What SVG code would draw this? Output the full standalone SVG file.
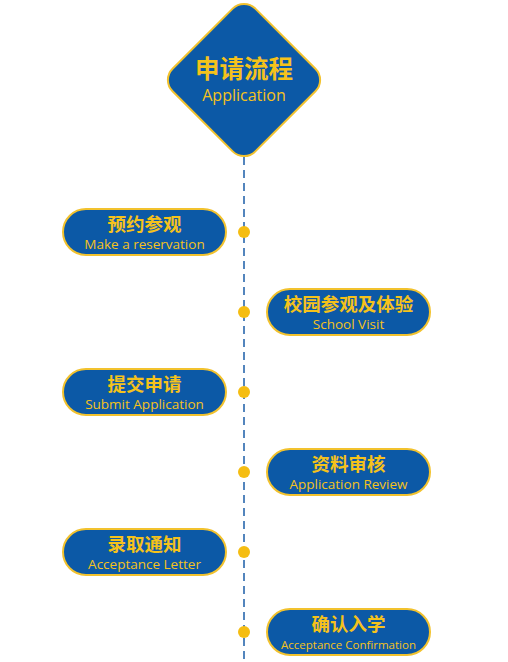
<svg xmlns="http://www.w3.org/2000/svg" width="508" height="662" viewBox="0 0 508 662">
<style>
.pill{fill:#0c59a6;stroke:#f2c22e;stroke-width:2}
.cn{font-family:"Noto Sans CJK SC","Noto Sans",sans-serif;font-weight:bold;fill:#f5c21b;text-anchor:middle}
.en{font-family:"Open Sans","Noto Sans",sans-serif;fill:#f5c21b;text-anchor:middle}
.dot{fill:#f5bd12}
</style>
<rect width="508" height="662" fill="#ffffff"/>
<g id="connectors">
<line x1="244" y1="157" x2="244" y2="662" stroke="#1b5ea8" stroke-width="1.5" stroke-dasharray="8,5"/>
<circle class="dot" cx="244" cy="232" r="6"/>
<circle class="dot" cx="244" cy="312" r="6"/>
<circle class="dot" cx="244" cy="392" r="6"/>
<circle class="dot" cx="244" cy="472" r="6"/>
<circle class="dot" cx="244" cy="552" r="6"/>
<circle class="dot" cx="244" cy="632" r="6"/>
</g>
<g id="start">
<rect x="-58.5" y="-58.5" width="117" height="117" rx="16" class="pill" transform="translate(244,80) rotate(45)"/>
<text class="cn" x="244" y="78" font-size="24.5">申请流程</text>
<text class="en" x="244" y="101" font-size="16">Application</text>
</g>
<g id="n1">
<rect class="pill" x="63" y="209" width="163" height="46" rx="23"/>
<text class="cn" x="144.5" y="231" font-size="18.5">预约参观</text>
<text class="en" x="144.5" y="249" font-size="13.5">Make a reservation</text>
</g>
<g id="n2">
<rect class="pill" x="267" y="289" width="163" height="46" rx="23"/>
<text class="cn" x="348.5" y="311" font-size="18.5">校园参观及体验</text>
<text class="en" x="348.5" y="329" font-size="13.5">School Visit</text>
</g>
<g id="n3">
<rect class="pill" x="63" y="369" width="163" height="46" rx="23"/>
<text class="cn" x="144.5" y="391" font-size="18.5">提交申请</text>
<text class="en" x="144.5" y="409" font-size="13.5">Submit Application</text>
</g>
<g id="n4">
<rect class="pill" x="267" y="449" width="163" height="46" rx="23"/>
<text class="cn" x="348.5" y="471" font-size="18.5">资料审核</text>
<text class="en" x="348.5" y="489" font-size="13.5">Application Review</text>
</g>
<g id="n5">
<rect class="pill" x="63" y="529" width="163" height="46" rx="23"/>
<text class="cn" x="144.5" y="551" font-size="18.5">录取通知</text>
<text class="en" x="144.5" y="569" font-size="13.5">Acceptance Letter</text>
</g>
<g id="n6">
<rect class="pill" x="267" y="609" width="163" height="46" rx="23"/>
<text class="cn" x="348.5" y="631" font-size="18.5">确认入学</text>
<text class="en" x="348.5" y="649" font-size="11.5">Acceptance Confirmation</text>
</g>
</svg>
